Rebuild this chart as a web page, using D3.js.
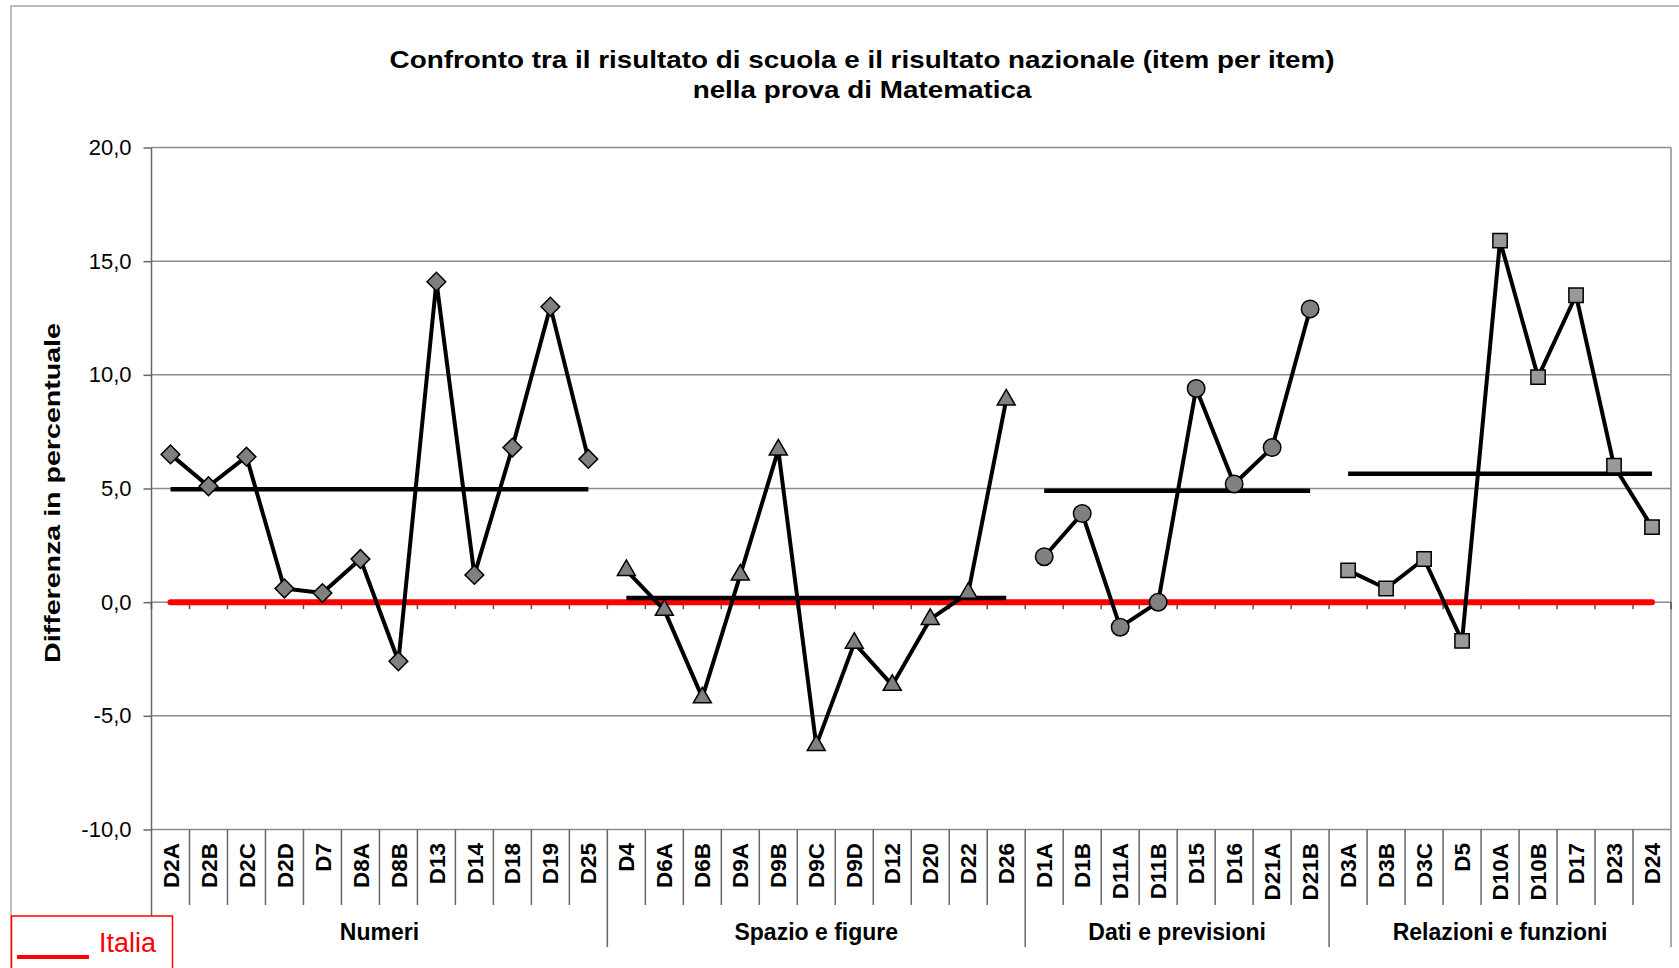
<!DOCTYPE html>
<html>
<head>
<meta charset="utf-8">
<script src="https://cdn.jsdelivr.net/npm/d3@7"></script>
<style>
  body { margin: 0; background: #fff; }
  svg { display: block; font-family: "Liberation Sans", Arial, sans-serif; }
</style>
</head>
<body>
<svg id="chart" width="1679" height="968"></svg>
<script>
// values (difference school - national, %)
const groupNames = ['Numeri', 'Spazio e figure', 'Dati e previsioni', 'Relazioni e funzioni'];

const numeriItems = ['D2A', 'D2B', 'D2C', 'D2D', 'D7', 'D8A', 'D8B', 'D13', 'D14', 'D18', 'D19', 'D25'];
const numeriValues = [6.5, 5.1, 6.4, 0.6, 0.4, 1.9, -2.6, 14.1, 1.2, 6.8, 13.0, 6.3];

const spazioItems = ['D4', 'D6A', 'D6B', 'D9A', 'D9B', 'D9C', 'D9D', 'D12', 'D20', 'D22', 'D26'];
const spazioValues = [1.4, -0.35, -4.2, 1.2, 6.7, -6.3, -1.8, -3.65, -0.75, 0.4, 8.9];

const datiItems = ['D1A', 'D1B', 'D11A', 'D11B', 'D15', 'D16', 'D21A', 'D21B'];
const datiValues = [2.0, 3.9, -1.1, 0.0, 9.4, 5.2, 6.8, 12.9];

const relazioniItems = ['D3A', 'D3B', 'D3C', 'D5', 'D10A', 'D10B', 'D17', 'D23', 'D24'];
const relazioniValues = [1.4, 0.6, 1.9, -1.7, 15.9, 9.9, 13.5, 6.0, 3.3];

const groupMeans = [4.97, 0.18, 4.9, 5.65];
const italiaValue = 0;
const yTicks = [-10, -5, 0, 5, 10, 15, 20];

const groups = [
  { name: groupNames[0], items: numeriItems, values: numeriValues, mean: groupMeans[0], marker: 'diamond' },
  { name: groupNames[1], items: spazioItems, values: spazioValues, mean: groupMeans[1], marker: 'triangle' },
  { name: groupNames[2], items: datiItems, values: datiValues, mean: groupMeans[2], marker: 'circle' },
  { name: groupNames[3], items: relazioniItems, values: relazioniValues, mean: groupMeans[3], marker: 'square' }
];
const allItems = groups.flatMap(g => g.items);

const svg = d3.select('#chart');
const left = 151.5, right = 1671;

const x = d3.scaleBand().domain(allItems).range([left, right]);
const y = d3.scaleLinear().domain([-10, 20]).range([829.5, 147.5]);
const cx = d => x(d) + x.bandwidth() / 2;

// outer frame
svg.append('rect')
  .attr('x', 11).attr('y', 6).attr('width', 1700).attr('height', 1000)
  .attr('fill', '#fff').attr('stroke', '#a6a6a6').attr('stroke-width', 1.5);

// title
const title = svg.append('g').attr('font-weight', 'bold').attr('font-size', 24).attr('fill', '#000');
title.append('text').attr('text-anchor', 'middle')
  .attr('transform', 'translate(862,67.5) scale(1.16,1)')
  .text('Confronto tra il risultato di scuola e il risultato nazionale (item per item)');
title.append('text').attr('text-anchor', 'middle')
  .attr('transform', 'translate(862,98) scale(1.16,1)')
  .text('nella prova di Matematica');

// gridlines
svg.append('g').selectAll('line')
  .data(yTicks)
  .join('line')
  .attr('x1', left).attr('x2', right)
  .attr('y1', d => y(d)).attr('y2', d => y(d))
  .attr('stroke', '#8c8c8c').attr('stroke-width', 1.5);

// right border of plot
svg.append('line')
  .attr('x1', right).attr('x2', right).attr('y1', y(20)).attr('y2', 947)
  .attr('stroke', '#8c8c8c').attr('stroke-width', 1.5);

// y axis
const yAxis = svg.append('g')
  .attr('transform', `translate(${left},0)`)
  .call(d3.axisLeft(y).tickValues(yTicks).tickSize(8).tickPadding(12)
    .tickFormat(d => d.toFixed(1).replace('.', ',')));
yAxis.select('.domain').remove();
yAxis.selectAll('line').attr('stroke', '#666').attr('stroke-width', 1.5);
yAxis.selectAll('text').attr('font-size', 22).attr('fill', '#000')
  .attr('font-family', '"Liberation Sans", Arial, sans-serif');
svg.append('line')
  .attr('x1', left).attr('x2', left).attr('y1', y(20)).attr('y2', 947)
  .attr('stroke', '#666').attr('stroke-width', 1.5);

svg.append('text')
  .attr('transform', 'translate(60,493) rotate(-90) scale(1.3,1)')
  .attr('text-anchor', 'middle')
  .attr('font-size', 22).attr('font-weight', 'bold')
  .text('Differenza in percentuale');

// category boundaries
const bounds = allItems.map(d => x(d)).concat([right]);
let acc = 0;
const groupStarts = [0];
groups.forEach(g => { acc += g.items.length; groupStarts.push(acc); });

// small ticks on the zero axis
svg.append('g').selectAll('line')
  .data(bounds)
  .join('line')
  .attr('x1', d => d).attr('x2', d => d)
  .attr('y1', y(0)).attr('y2', y(0) + 7)
  .attr('stroke', '#555').attr('stroke-width', 1.5);

// separators under the category axis
svg.append('g').selectAll('line')
  .data(bounds.slice(1, -1).map((b, i) => ({ b, long: groupStarts.includes(i + 1) })))
  .join('line')
  .attr('x1', d => d.b).attr('x2', d => d.b)
  .attr('y1', y(-10)).attr('y2', d => d.long ? 947 : 905)
  .attr('stroke', '#666').attr('stroke-width', 1.5);

// category labels
svg.append('g').selectAll('text')
  .data(allItems)
  .join('text')
  .attr('transform', d => `translate(${cx(d)},843) rotate(-90)`)
  .attr('text-anchor', 'end').attr('dy', '0.36em')
  .attr('font-size', 22.5).attr('font-weight', 'bold')
  .text(d => d);

// group labels
svg.append('g').selectAll('text')
  .data(groups)
  .join('text')
  .attr('x', (g, i) => (bounds[groupStarts[i]] + bounds[groupStarts[i + 1]]) / 2)
  .attr('y', 940)
  .attr('text-anchor', 'middle')
  .attr('font-size', 23).attr('font-weight', 'bold')
  .text(g => g.name);

// Italia reference line
svg.append('line')
  .attr('x1', cx(allItems[0])).attr('x2', cx(allItems[allItems.length - 1]))
  .attr('y1', y(italiaValue)).attr('y2', y(italiaValue))
  .attr('stroke', '#ff0000').attr('stroke-width', 6).attr('stroke-linecap', 'round');

// group means
svg.append('g').selectAll('line')
  .data(groups)
  .join('line')
  .attr('x1', g => cx(g.items[0])).attr('x2', g => cx(g.items[g.items.length - 1]))
  .attr('y1', g => y(g.mean)).attr('y2', g => y(g.mean))
  .attr('stroke', '#000').attr('stroke-width', 4.5);

// series lines
const line = d3.line().x(d => cx(d.item)).y(d => y(d.value));
groups.forEach(g => {
  const pts = g.items.map((item, i) => ({ item, value: g.values[i] }));
  svg.append('path')
    .datum(pts)
    .attr('d', line)
    .attr('fill', 'none').attr('stroke', '#000').attr('stroke-width', 4)
    .attr('stroke-linejoin', 'round');
});

// markers
const symbols = {
  diamond: { type: d3.symbolSquare, size: 175, rot: 45, fill: '#808080' },
  triangle: { type: d3.symbolTriangle, size: 140, rot: 0, fill: '#808080' },
  circle: { type: d3.symbolCircle, size: 240, rot: 0, fill: '#808080' },
  square: { type: d3.symbolSquare, size: 205, rot: 0, fill: '#999999' }
};
groups.forEach(g => {
  const s = symbols[g.marker];
  svg.append('g').selectAll('path')
    .data(g.items.map((item, i) => ({ item, value: g.values[i] })))
    .join('path')
    .attr('d', d3.symbol().type(s.type).size(s.size))
    .attr('transform', d => `translate(${cx(d.item)},${y(d.value)}) rotate(${s.rot})`)
    .attr('fill', s.fill).attr('stroke', '#000').attr('stroke-width', 1.5);
});

// legend
const legend = svg.append('g');
legend.append('rect')
  .attr('x', 11.5).attr('y', 916).attr('width', 161).attr('height', 70)
  .attr('fill', '#fff').attr('stroke', '#ff0000').attr('stroke-width', 1.5);
legend.append('line')
  .attr('x1', 17).attr('x2', 89).attr('y1', 957).attr('y2', 957)
  .attr('stroke', '#ff0000').attr('stroke-width', 4);
legend.append('text')
  .attr('x', 99).attr('y', 952)
  .attr('font-size', 27).attr('fill', '#ff0000')
  .text('Italia');
</script>
</body>
</html>
